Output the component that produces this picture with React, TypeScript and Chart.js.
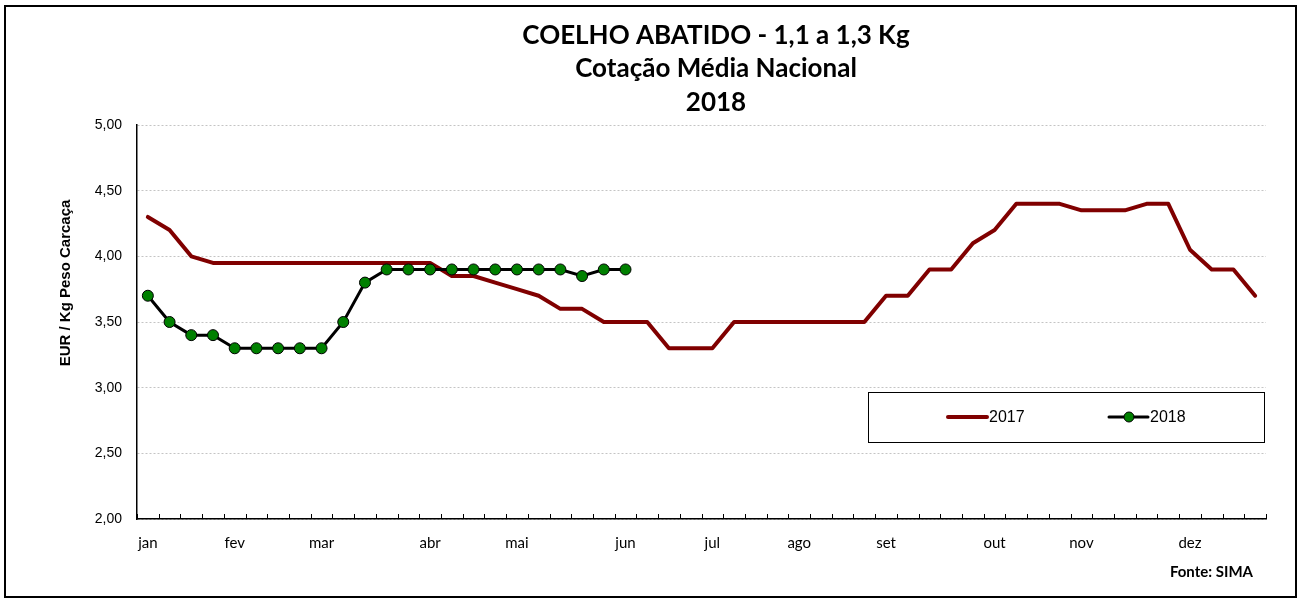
import React, { useEffect, useRef } from 'react';
import { Chart, registerables } from 'chart.js';

Chart.register(...registerables);

const monthNames = ['jan', 'fev', 'mar', 'abr', 'mai', 'jun', 'jul', 'ago', 'set', 'out', 'nov', 'dez'];
const monthStartWeek = [0, 4, 8, 13, 17, 22, 26, 30, 34, 39, 43, 48];
const weekCount = 52;

const values2017 = [
  4.3, 4.2, 4.0, 3.95, 3.95, 3.95, 3.95, 3.95, 3.95, 3.95, 3.95, 3.95, 3.95, 3.95,
  3.85, 3.85, 3.8, 3.75, 3.7, 3.6, 3.6, 3.5, 3.5, 3.5, 3.3, 3.3, 3.3,
  3.5, 3.5, 3.5, 3.5, 3.5, 3.5, 3.5, 3.7, 3.7, 3.9, 3.9, 4.1, 4.2,
  4.4, 4.4, 4.4, 4.35, 4.35, 4.35, 4.4, 4.4, 4.05, 3.9, 3.9, 3.7,
];
const values2018 = [
  3.7, 3.5, 3.4, 3.4, 3.3, 3.3, 3.3, 3.3, 3.3, 3.5, 3.8, 3.9,
  3.9, 3.9, 3.9, 3.9, 3.9, 3.9, 3.9, 3.9, 3.85, 3.9, 3.9,
];
const seriesLabels = ['2017', '2018'];
const yMin = 2;
const yMax = 5;
const yStep = 0.5;
const titleLines = ['COELHO ABATIDO - 1,1 a 1,3 Kg', 'Cotação Média Nacional', '2018'];
const yAxisTitle = 'EUR / Kg Peso Carcaça';
const sourceText = 'Fonte: SIMA';

const weekLabels: string[] = [];
for (let i = 0; i < weekCount; i++) {
  const m = monthStartWeek.indexOf(i);
  weekLabels.push(m >= 0 ? monthNames[m] : '');
}

const RED = '#800000';
const GREEN = '#008000';
const TITLE_FONT = 'Lato, "Open Sans", sans-serif';
const ARIAL = '"Liberation Sans", Arial, sans-serif';

const decorPlugin = {
  id: 'decor',
  beforeDraw(chart: any) {
    const ctx = chart.ctx;
    ctx.save();
    ctx.fillStyle = '#fff';
    ctx.fillRect(0, 0, chart.width, chart.height);
    ctx.restore();
  },
  afterDraw(chart: any) {
    const ctx = chart.ctx;
    const area = chart.chartArea;
    const xs = chart.scales.x;
    ctx.save();
    // outer border
    ctx.strokeStyle = '#000';
    ctx.lineWidth = 2;
    ctx.strokeRect(5, 6, 1291, 591);

    // inward tick marks on x axis at category boundaries
    const n = xs.ticks.length;
    const step = xs.width / n;
    ctx.lineWidth = 1;
    ctx.beginPath();
    for (let i = 0; i <= n; i++) {
      const px = Math.round(xs.left + i * step) + 0.5;
      ctx.moveTo(px, area.bottom);
      ctx.lineTo(px, area.bottom - 5);
    }
    ctx.stroke();

    // titles
    ctx.fillStyle = '#000';
    ctx.textAlign = 'center';
    ctx.textBaseline = 'middle';
    ctx.font = `bold 26px ${TITLE_FONT}`;
    const cx = 716;
    ctx.fillText(titleLines[0], cx, 36);
    ctx.fillText(titleLines[1], cx, 69);
    ctx.fillText(titleLines[2], cx, 103);

    // y axis title
    ctx.save();
    ctx.translate(66, 283);
    ctx.rotate(-Math.PI / 2);
    ctx.font = `bold 15px ${ARIAL}`;
    ctx.fillText(yAxisTitle, 0, 0);
    ctx.restore();

    // source
    ctx.font = `bold 15px ${TITLE_FONT}`;
    ctx.textAlign = 'right';
    ctx.fillText(sourceText, 1253, 572);

    // legend
    const ds = chart.data.datasets;
    const boxL = area.right - 398;
    const boxT = area.bottom - 127;
    ctx.lineWidth = 1;
    ctx.strokeStyle = '#000';
    ctx.strokeRect(boxL + 0.5, boxT + 0.5, 396, 50);
    const ly = boxT + 25;
    ctx.font = `16px ${ARIAL}`;
    ctx.textAlign = 'left';
    const items = [
      { ds: ds.find((d: any) => d.label === seriesLabels[0]), x0: boxL + 80 },
      { ds: ds.find((d: any) => d.label === seriesLabels[1]), x0: boxL + 241 },
    ];
    items.forEach((it) => {
      const d = it.ds;
      ctx.strokeStyle = d.borderColor;
      ctx.lineWidth = d.borderWidth;
      ctx.lineCap = 'round';
      ctx.beginPath();
      ctx.moveTo(it.x0, ly);
      ctx.lineTo(it.x0 + 39, ly);
      ctx.stroke();
      if (d.pointRadius > 0) {
        ctx.beginPath();
        ctx.arc(it.x0 + 20, ly, d.pointRadius - 0.5, 0, Math.PI * 2);
        ctx.fillStyle = d.pointBackgroundColor;
        ctx.fill();
        ctx.lineWidth = 1;
        ctx.strokeStyle = '#000';
        ctx.stroke();
      }
      ctx.fillStyle = '#000';
      ctx.fillText(d.label, it.x0 + 41, ly + 1);
    });
    ctx.restore();
  },
};

export default function App() {
  const ref = useRef<HTMLCanvasElement | null>(null);

  useEffect(() => {
    if (!ref.current) return;
    const chart = new Chart(ref.current, {
      type: 'line',
      data: {
        labels: weekLabels,
        datasets: [
          {
            label: seriesLabels[0],
            data: values2017,
            borderColor: RED,
            backgroundColor: RED,
            borderWidth: 4,
            pointRadius: 0,
            borderCapStyle: 'round',
            borderJoinStyle: 'round',
            tension: 0,
            order: 1,
          },
          {
            label: seriesLabels[1],
            data: values2018,
            borderColor: '#000',
            backgroundColor: GREEN,
            borderWidth: 3,
            pointRadius: 5.5,
            pointBackgroundColor: GREEN,
            pointBorderColor: '#000',
            pointBorderWidth: 1,
            tension: 0,
            order: 0,
          },
        ],
      },
      options: {
        responsive: false,
        animation: false,
        devicePixelRatio: 1,
        layout: { padding: { left: 0, right: 32, top: 125, bottom: 0 } },
        plugins: {
          legend: { display: false },
          title: { display: false },
          tooltip: { enabled: false },
        },
        scales: {
          x: {
            type: 'category',
            offset: true,
            z: 1,
            grid: { display: false, drawTicks: false },
            border: { display: true, color: '#000', width: 1.5 },
            ticks: {
              autoSkip: false,
              maxRotation: 0,
              minRotation: 0,
              color: '#000',
              font: { family: TITLE_FONT, size: 15 },
              padding: 15,
            },
            afterFit: (s: any) => {
              s.height = 80;
            },
          },
          y: {
            min: yMin,
            max: yMax,
            ticks: {
              stepSize: yStep,
              color: '#000',
              font: { family: ARIAL, size: 14 },
              padding: 15,
              callback: (v: any) => Number(v).toFixed(2).replace('.', ','),
            },
            grid: { color: '#c4c4c4', lineWidth: 1, drawTicks: false },
            border: { display: true, color: '#000', width: 1.5, dash: [2, 2] },
            title: { display: false },
            afterFit: (s: any) => {
              s.width = 137;
            },
          },
        },
      },
      plugins: [decorPlugin],
    } as any);
    return () => chart.destroy();
  }, []);

  return (
    <div style={{ position: 'absolute', left: 0, top: 0, width: 1298, height: 599 }}>
      <canvas ref={ref} width={1298} height={599} style={{ display: 'block', width: 1298, height: 599 }} />
    </div>
  );
}
